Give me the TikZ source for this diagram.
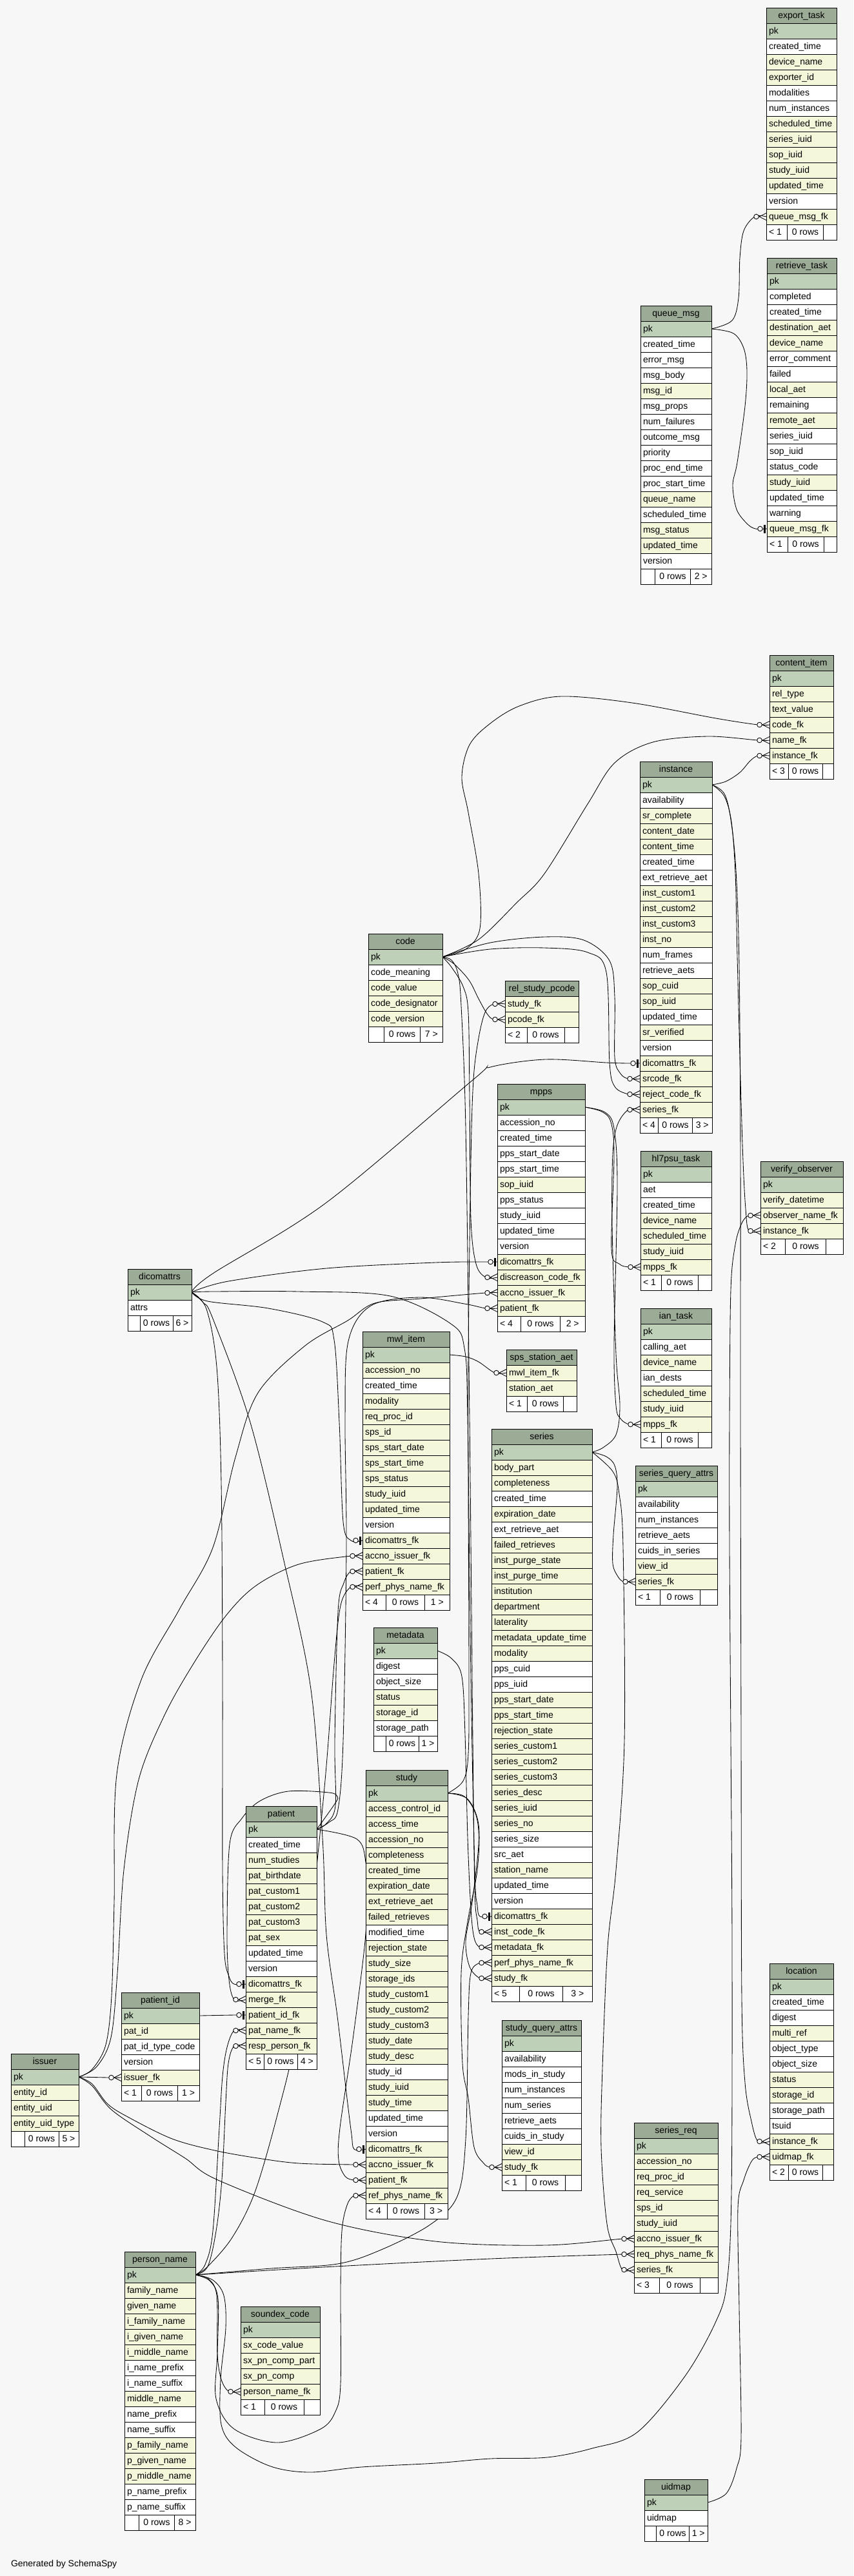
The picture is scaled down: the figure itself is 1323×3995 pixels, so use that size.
\documentclass[tikz,border=0pt]{standalone}
\usepackage{fontspec}
\setmainfont{Liberation Sans}
\usetikzlibrary{calc}
\definecolor{ch}{HTML}{9BAB96}
\definecolor{cp}{HTML}{BED1B8}
\definecolor{cy}{HTML}{F4F7DA}
\definecolor{cw}{HTML}{FFFFFF}
\definecolor{cbg}{HTML}{F7F7F7}
\pgfdeclarelayer{bgl}\pgfdeclarelayer{edgel}
\pgfsetlayers{bgl,edgel,main}
\newcommand\tfs{\fontsize{14}{16}\selectfont}
\tikzset{
  box/.style={draw, line width=0.9pt, inner sep=0pt, outer sep=0pt, minimum height=24pt},
  txt/.style={inner sep=0pt, outer sep=0pt, font=\tfs},
  conn/.style={draw, line width=0.85pt},
}
% #1 name, #2 x, #3 y, #4 width, #5 rows, #6 footer left, #7 footer right
\newcommand\mytbl[7]{%
  \node[box, fill=ch, minimum width=#4pt, anchor=north west] (#1) at (#2,#3) {};
  \node[txt, anchor=base] at ($(#1.center)+(0,4.5)$) {#1};
  \foreach \t/\c [count=\i] in {#5} {
    \node[box, fill=c\t, minimum width=#4pt, anchor=north west] (#1-\c) at (#2,{#3+24*\i}) {};
    \node[txt, anchor=base west] at ($(#1-\c.west)+(4,4.5)$) {\c};
    \xdef\tbN{\i}
  }
  \if\relax\detokenize{#6}\relax\def\tbL{18}\else\def\tbL{26}\fi
  \if\relax\detokenize{#7}\relax\def\tbR{14}\else\def\tbR{28}\fi
  \pgfmathsetmacro\tbX{(#4-\tbL-\tbR-50)/3}
  \pgfmathsetmacro\tbLL{\tbL+\tbX}
  \pgfmathsetmacro\tbMM{50+\tbX}
  \pgfmathsetmacro\tbRR{\tbR+\tbX}
  \pgfmathsetmacro\tbY{#3+24*(\tbN+1)}
  \node[box, fill=cw, minimum width=\tbLL pt, anchor=north west] (#1-fa) at (#2,\tbY) {};
  \node[txt, anchor=base west] at ($(#1-fa.west)+(4,4.5)$) {#6};
  \node[box, fill=cw, minimum width=\tbMM pt, anchor=north west] (#1-fb) at (#1-fa.north east) {};
  \node[txt, anchor=base] at ($(#1-fb.center)+(0,4.5)$) {0 rows};
  \node[box, fill=cw, minimum width=\tbRR pt, anchor=north west] (#1-fc) at (#1-fb.north east) {};
  \node[txt, anchor=base] at ($(#1-fc.center)+(0,4.5)$) {#7};
}
\newcommand\myedge[3]{%
  \begin{pgfonlayer}{edgel}
  \draw[conn] plot[smooth,tension=0.55] coordinates {(#1.east) #3 ($(#2.west)+(-18,0)$) (#2.west)};
  \end{pgfonlayer}}
\newcommand\zm[1]{%
  \draw[conn] ($(#1.west)+(-11,0)$) -- ($(#1.west)+(0,-5.5)$);
  \draw[conn] ($(#1.west)+(-11,0)$) -- ($(#1.west)+(0,5.5)$);
  \draw[conn, fill=cbg] ($(#1.west)+(-15.5,0)$) circle[radius=3.8pt];}
\newcommand\zo[1]{%
  \fill ($(#1.west)+(-5,-6.5)$) rectangle ($(#1.west)+(-2,6.5)$);
  \draw[conn, fill=cbg] ($(#1.west)+(-10.5,0)$) circle[radius=3.8pt];}
\catcode`\_=12
\begin{document}
\begin{tikzpicture}[x=1pt,y=-1pt]
\begin{pgfonlayer}{bgl}
\fill[cbg] (0,0) rectangle (1323,3995);
\end{pgfonlayer}
\useasboundingbox (0,0) rectangle (1323,3995);

% ---------------- tables ----------------
\mytbl{export_task}{1188}{12}{109}{p/pk,w/created_time,y/device_name,y/exporter_id,w/modalities,w/num_instances,y/scheduled_time,y/series_iuid,y/sop_iuid,y/study_iuid,y/updated_time,w/version,y/queue_msg_fk}{< 1}{}
\mytbl{retrieve_task}{1189}{400}{108}{p/pk,w/completed,w/created_time,y/destination_aet,y/device_name,w/error_comment,w/failed,y/local_aet,w/remaining,y/remote_aet,w/series_iuid,w/sop_iuid,w/status_code,y/study_iuid,w/updated_time,w/warning,y/queue_msg_fk}{< 1}{}
\mytbl{queue_msg}{993}{474}{110}{p/pk,w/created_time,w/error_msg,w/msg_body,y/msg_id,w/msg_props,w/num_failures,w/outcome_msg,w/priority,w/proc_end_time,w/proc_start_time,y/queue_name,w/scheduled_time,y/msg_status,y/updated_time,w/version}{}{2 >}
\mytbl{content_item}{1193}{1016}{99}{p/pk,y/rel_type,y/text_value,y/code_fk,y/name_fk,y/instance_fk}{< 3}{}
\mytbl{instance}{992}{1181}{112}{p/pk,w/availability,y/sr_complete,y/content_date,y/content_time,w/created_time,w/ext_retrieve_aet,y/inst_custom1,y/inst_custom2,y/inst_custom3,y/inst_no,w/num_frames,w/retrieve_aets,y/sop_cuid,y/sop_iuid,w/updated_time,y/sr_verified,w/version,y/dicomattrs_fk,y/srcode_fk,y/reject_code_fk,y/series_fk}{< 4}{3 >}
\mytbl{code}{571}{1448}{115}{p/pk,w/code_meaning,y/code_value,y/code_designator,y/code_version}{}{7 >}
\mytbl{rel_study_pcode}{783}{1521}{114}{y/study_fk,y/pcode_fk}{< 2}{}
\mytbl{mpps}{771}{1681}{136}{p/pk,w/accession_no,w/created_time,w/pps_start_date,w/pps_start_time,y/sop_iuid,w/pps_status,w/study_iuid,w/updated_time,w/version,y/dicomattrs_fk,y/discreason_code_fk,y/accno_issuer_fk,y/patient_fk}{< 4}{2 >}
\mytbl{hl7psu_task}{993}{1785}{110}{p/pk,w/aet,w/created_time,y/device_name,y/scheduled_time,y/study_iuid,y/mpps_fk}{< 1}{}
\mytbl{verify_observer}{1179}{1801}{128}{p/pk,y/verify_datetime,y/observer_name_fk,y/instance_fk}{< 2}{}
\mytbl{ian_task}{993}{2029}{110}{p/pk,w/calling_aet,y/device_name,w/ian_dests,y/scheduled_time,y/study_iuid,y/mpps_fk}{< 1}{}
\mytbl{dicomattrs}{198}{1968}{99}{p/pk,w/attrs}{}{6 >}
\mytbl{mwl_item}{562}{2065}{135}{p/pk,y/accession_no,w/created_time,y/modality,y/req_proc_id,y/sps_id,y/sps_start_date,y/sps_start_time,y/sps_status,y/study_iuid,y/updated_time,w/version,y/dicomattrs_fk,y/accno_issuer_fk,y/patient_fk,y/perf_phys_name_fk}{< 4}{1 >}
\mytbl{sps_station_aet}{785}{2093}{109}{y/mwl_item_fk,y/station_aet}{< 1}{}
\mytbl{series}{762}{2216}{156}{p/pk,y/body_part,y/completeness,w/created_time,y/expiration_date,w/ext_retrieve_aet,y/failed_retrieves,y/inst_purge_state,y/inst_purge_time,y/institution,y/department,y/laterality,y/metadata_update_time,y/modality,w/pps_cuid,w/pps_iuid,y/pps_start_date,y/pps_start_time,y/rejection_state,y/series_custom1,y/series_custom2,y/series_custom3,y/series_desc,y/series_iuid,y/series_no,w/series_size,w/src_aet,y/station_name,w/updated_time,w/version,y/dicomattrs_fk,y/inst_code_fk,y/metadata_fk,y/perf_phys_name_fk,y/study_fk}{< 5}{3 >}
\mytbl{series_query_attrs}{985}{2273}{127}{p/pk,w/availability,w/num_instances,w/retrieve_aets,w/cuids_in_series,y/view_id,y/series_fk}{< 1}{}
\mytbl{metadata}{579}{2524}{99}{p/pk,w/digest,w/object_size,y/status,y/storage_id,w/storage_path}{}{1 >}
\mytbl{study}{567}{2745}{127}{p/pk,y/access_control_id,y/access_time,y/accession_no,y/completeness,y/created_time,y/expiration_date,y/ext_retrieve_aet,y/failed_retrieves,w/modified_time,y/rejection_state,y/study_size,y/storage_ids,y/study_custom1,y/study_custom2,y/study_custom3,y/study_date,y/study_desc,w/study_id,y/study_iuid,y/study_time,w/updated_time,w/version,y/dicomattrs_fk,y/accno_issuer_fk,y/patient_fk,y/ref_phys_name_fk}{< 4}{3 >}
\mytbl{patient}{381}{2801}{110}{p/pk,w/created_time,y/num_studies,y/pat_birthdate,y/pat_custom1,y/pat_custom2,y/pat_custom3,y/pat_sex,w/updated_time,w/version,y/dicomattrs_fk,y/merge_fk,y/patient_id_fk,y/pat_name_fk,y/resp_person_fk}{< 5}{4 >}
\mytbl{patient_id}{188}{3090}{121}{p/pk,y/pat_id,w/pat_id_type_code,w/version,y/issuer_fk}{< 1}{1 >}
\mytbl{issuer}{17}{3185}{105}{p/pk,y/entity_id,y/entity_uid,y/entity_uid_type}{}{5 >}
\mytbl{person_name}{193}{3492}{110}{p/pk,y/family_name,y/given_name,y/i_family_name,y/i_given_name,y/i_middle_name,w/i_name_prefix,w/i_name_suffix,y/middle_name,w/name_prefix,w/name_suffix,y/p_family_name,y/p_given_name,y/p_middle_name,w/p_name_prefix,w/p_name_suffix}{}{8 >}
\mytbl{soundex_code}{373}{3577}{123}{p/pk,y/sx_code_value,y/sx_pn_comp_part,y/sx_pn_comp,y/person_name_fk}{< 1}{}
\mytbl{study_query_attrs}{778}{3133}{123}{p/pk,w/availability,w/mods_in_study,w/num_instances,w/num_series,w/retrieve_aets,w/cuids_in_study,y/view_id,y/study_fk}{< 1}{}
\mytbl{series_req}{983}{3292}{130}{p/pk,y/accession_no,y/req_proc_id,y/req_service,y/sps_id,y/study_iuid,y/accno_issuer_fk,y/req_phys_name_fk,y/series_fk}{< 3}{}
\mytbl{location}{1193}{3045}{99}{p/pk,w/created_time,w/digest,y/multi_ref,w/object_type,w/object_size,y/status,y/storage_id,w/storage_path,w/tsuid,y/instance_fk,y/uidmap_fk}{< 2}{}
\mytbl{uidmap}{999}{3845}{98}{p/pk,w/uidmap}{}{1 >}

% ---------------- connectors ----------------
\myedge{queue_msg-pk}{export_task-queue_msg_fk}{(1135,497) (1145,462) (1147,400) (1153,358)}
\myedge{queue_msg-pk}{retrieve_task-queue_msg_fk}{(1137,517) (1153,540) (1158,575) (1155,630) (1143,717) (1136,752) (1142,790) (1158,812)}
\myedge{code-pk}{content_item-code_fk}{(722,1472) (744,1440) (742,1355) (726,1260) (716,1205) (728,1155) (760,1122) (805,1095) (870,1080) (980,1090) (1110,1114)}
\myedge{code-pk}{content_item-name_fk}{(742,1457) (801,1400) (844,1355) (911,1247) (953,1183) (1012,1151) (1097,1142)}
\myedge{instance-pk}{content_item-instance_fk}{(1125,1212) (1147,1198) (1163,1180)}
\myedge{instance-pk}{verify_observer-instance_fk}{(1123,1235) (1134,1275) (1140,1355) (1143,1483) (1148,1674) (1152,1801) (1156,1875)}
\myedge{instance-pk}{location-instance_fk}{(1123,1231) (1133,1271) (1141,1350) (1146,1500) (1148,1800) (1148,2200) (1149,2700) (1150,3100) (1155,3230) (1165,3290)}
\myedge{person_name-pk}{verify_observer-observer_name_fk}{(330,3536) (347,3560) (350,3610) (342,3690) (343,3760) (365,3795) (420,3825) (480,3834) (560,3826) (675,3820) (760,3813) (848,3811) (918,3797) (988,3772) (1062,3685) (1110,3600) (1127,3540) (1134,3400) (1135,3020) (1133,2700) (1131,2400) (1131,2200) (1133,2000) (1140,1930) (1150,1897)}
\myedge{dicomattrs-pk}{instance-dicomattrs_fk}{(330,1975) (506,1865) (734,1674) (760,1655) (845,1643) (940,1648)}
\myedge{code-pk}{instance-srcode_fk}{(760,1462) (844,1453) (905,1458) (945,1490) (953,1546) (953,1640) (962,1665)}
\myedge{code-pk}{instance-reject_code_fk}{(760,1472) (844,1470) (911,1477) (940,1508) (945,1648) (953,1685)}
\myedge{series-pk}{instance-series_fk}{(935,2245) (955,2225) (961,2180) (955,2100) (949,1900) (950,1790) (957,1745)}
\myedge{study-pk}{rel_study_pcode-study_fk}{(718,2762) (726,2720) (727,2600) (726,2300) (726,2100) (730,1800) (734,1674) (742,1610) (752,1570)}
\myedge{code-pk}{rel_study_pcode-pcode_fk}{(704,1495) (727,1520) (742,1549) (755,1572)}
\myedge{dicomattrs-pk}{mpps-dicomattrs_fk}{(354,1987) (506,1967) (675,1958)}
\myedge{code-pk}{mpps-discreason_code_fk}{(700,1500) (718,1530) (726,1570) (728,1700) (730,1890) (738,1960)}
\myedge{issuer-pk}{mpps-accno_issuer_fk}{(143,3209) (164,3171) (173,3095) (177,2950) (181,2752) (219,2605) (278,2496) (330,2400) (365,2260) (400,2160) (473,2087) (539,2048) (581,2021) (652,2014)}
\myedge{patient-pk}{mpps-patient_fk}{(510,2826) (524,2806) (532,2700) (537,2400) (535,2200) (540,2080) (575,2025) (650,2012) (720,2022)}
\myedge{mpps-pk}{hl7psu_task-mpps_fk}{(933,1724) (947,1740) (952,1790) (948,1937) (960,1960)}
\myedge{mpps-pk}{ian_task-mpps_fk}{(938,1725) (952,1750) (957,1840) (952,2087) (955,2180) (962,2200)}
\myedge{mwl_item-pk}{sps_station_aet-mwl_item_fk}{(722,2104) (742,2112)}
\myedge{dicomattrs-pk}{mwl_item-dicomattrs_fk}{(322,2018) (416,2029) (500,2050) (518,2078) (526,2206) (532,2360)}
\myedge{issuer-pk}{mwl_item-accno_issuer_fk}{(150,3205) (172,3160) (182,3060) (192,2900) (215,2760) (255,2660) (300,2580) (350,2506) (397,2459) (463,2426)}
\myedge{patient-pk}{mwl_item-patient_fk}{(506,2828) (520,2800) (519,2700) (524,2500) (533,2455)}
\myedge{person_name-pk}{mwl_item-perf_phys_name_fk}{(322,3515) (360,3470) (395,3400) (430,3280) (460,3150) (485,2950) (505,2750) (518,2580) (528,2490)}
\myedge{series-pk}{series_query_attrs-series_fk}{(940,2259) (953,2273) (957,2306) (951,2380) (950,2425) (958,2445)}
\myedge{dicomattrs-pk}{series-dicomattrs_fk}{(330,2003) (463,2003) (605,2010) (699,2053) (720,2091) (725,2200) (730,2600) (736,2900) (740,2955)}
\myedge{code-pk}{series-inst_code_fk}{(700,1489) (710,1510) (715,1560) (722,1750) (728,2200) (733,2700) (736,2930) (740,2978)}
\myedge{metadata-pk}{series-metadata_fk}{(700,2572) (716,2600) (721,2690) (725,2850) (730,2960) (735,3005)}
\myedge{person_name-pk}{series-perf_phys_name_fk}{(420,3518) (523,3511) (591,3489) (667,3450) (709,3406) (722,3317) (726,3127) (730,3060)}
\myedge{study-pk}{series-study_fk}{(720,2786) (738,2815) (742,2860) (732,2950) (722,3010) (728,3050)}
\myedge{dicomattrs-pk}{study-dicomattrs_fk}{(315,2020) (330,2045) (388,2206) (440,2420) (482,2620) (500,2850) (506,3000) (523,3127) (538,3254) (545,3310)}
\myedge{issuer-pk}{study-accno_issuer_fk}{(143,3232) (167,3263) (200,3284) (267,3317) (333,3335) (400,3347) (464,3355)}
\myedge{patient-pk}{study-patient_fk}{(553,2852) (567,2888) (569,2950) (565,3020) (547,3163) (527,3300) (525,3350) (535,3375)}
\myedge{person_name-pk}{study-ref_phys_name_fk}{(325,3537) (338,3565) (337,3650) (335,3720) (363,3767) (430,3788) (497,3767) (520,3740) (528,3697) (528,3550) (530,3460) (538,3420)}
\myedge{study-pk}{study_query_attrs-study_fk}{(725,2790) (742,2830) (740,2900) (725,2980) (715,3060) (717,3200) (726,3254) (735,3330) (750,3355)}
\myedge{dicomattrs-pk}{patient-dicomattrs_fk}{(320,2030) (336,2120) (343,2300) (345,2600) (345,2900) (348,3030) (355,3065)}
\myedge{patient-pk}{patient-merge_fk}{(520,2796) (523,2786) (510,2780) (447,2778) (403,2793) (375,2820) (356,2860) (352,3000) (355,3070)}
\myedge{patient_id-pk}{patient-patient_id_fk}{}
\myedge{person_name-pk}{patient-pat_name_fk}{(318,3512) (330,3460) (340,3300) (345,3220) (352,3175)}
\myedge{person_name-pk}{patient-resp_person_fk}{(322,3515) (335,3460) (344,3380) (350,3260) (354,3200)}
\myedge{issuer-pk}{patient_id-issuer_fk}{}
\myedge{issuer-pk}{series_req-accno_issuer_fk}{(143,3235) (173,3272) (233,3313) (287,3347) (338,3381) (506,3444) (675,3476) (844,3482)}
\myedge{person_name-pk}{series_req-req_phys_name_fk}{(500,3516) (760,3503)}
\myedge{series-pk}{series_req-series_fk}{(950,2282) (960,2317) (966,2400) (968,2700) (955,2900) (942,3020) (934,3207) (932,3331) (941,3449) (955,3492)}
\myedge{person_name-pk}{soundex_code-person_name_fk}{(323,3534) (336,3560) (337,3650) (343,3690)}
\myedge{uidmap-pk}{location-uidmap_fk}{(1126,3867) (1142,3828) (1149,3779) (1146,3580) (1144,3424) (1153,3381) (1165,3352)}

% ---------------- end markers ----------------
\zm{export_task-queue_msg_fk}
\zo{retrieve_task-queue_msg_fk}
\zm{content_item-code_fk}
\zm{content_item-name_fk}
\zm{content_item-instance_fk}
\zm{verify_observer-instance_fk}
\zm{verify_observer-observer_name_fk}
\zm{location-instance_fk}
\zm{location-uidmap_fk}
\zo{instance-dicomattrs_fk}
\zm{instance-srcode_fk}
\zm{instance-reject_code_fk}
\zm{instance-series_fk}
\zm{rel_study_pcode-study_fk}
\zm{rel_study_pcode-pcode_fk}
\zo{mpps-dicomattrs_fk}
\zm{mpps-discreason_code_fk}
\zm{mpps-accno_issuer_fk}
\zm{mpps-patient_fk}
\zm{hl7psu_task-mpps_fk}
\zm{ian_task-mpps_fk}
\zm{sps_station_aet-mwl_item_fk}
\zo{mwl_item-dicomattrs_fk}
\zm{mwl_item-accno_issuer_fk}
\zm{mwl_item-patient_fk}
\zm{mwl_item-perf_phys_name_fk}
\zm{series_query_attrs-series_fk}
\zo{series-dicomattrs_fk}
\zm{series-inst_code_fk}
\zm{series-metadata_fk}
\zm{series-perf_phys_name_fk}
\zm{series-study_fk}
\zo{study-dicomattrs_fk}
\zm{study-accno_issuer_fk}
\zm{study-patient_fk}
\zm{study-ref_phys_name_fk}
\zm{study_query_attrs-study_fk}
\zo{patient-dicomattrs_fk}
\zm{patient-merge_fk}
\zo{patient-patient_id_fk}
\zm{patient-pat_name_fk}
\zm{patient-resp_person_fk}
\zm{patient_id-issuer_fk}
\zm{series_req-accno_issuer_fk}
\zm{series_req-req_phys_name_fk}
\zm{series_req-series_fk}
\zm{soundex_code-person_name_fk}

\node[txt, anchor=base west] (gen) at (17,3980) {Generated by SchemaSpy};
\end{tikzpicture}
\end{document}
